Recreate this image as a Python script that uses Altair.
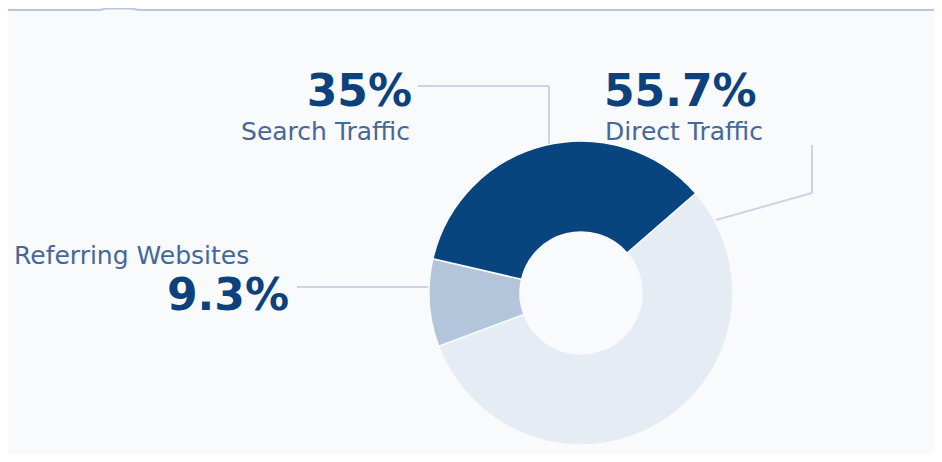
import math
import altair as alt
import pandas as pd

# ---- data ----
categories = ["Direct Traffic", "Referring Websites", "Search Traffic"]
values = [55.7, 9.3, 35.0]
order = [1, 2, 3]
colors = ["#e6ecf4", "#b2c5da", "#08457e"]

df = pd.DataFrame({"category": categories, "value": values, "order": order})

W, H = 926, 446
OFF = 8  # page margin offset (reference px -> chart px)

def px(v):
    return v - OFF

start = math.radians(49)

cx, cy, R, r = 581, 293, 152, 61

donut = alt.Chart(df).mark_arc(
    innerRadius=r, outerRadius=R, stroke="#f8fafc", strokeWidth=1.5
).encode(
    x=alt.value(px(cx)),
    y=alt.value(px(cy)),
    theta=alt.Theta("value:Q", stack=True,
                    scale=alt.Scale(range=[start, start + 2 * math.pi])),
    order=alt.Order("order:Q"),
    color=alt.Color("category:N", legend=None,
                    scale=alt.Scale(domain=categories, range=colors)),
)

one = pd.DataFrame({"a": [0]})

def text_layer(s, x, y, size, bold, color, align):
    return alt.Chart(pd.DataFrame({"t": [s]})).mark_text(
        align=align, baseline="alphabetic", fontSize=size,
        font="DejaVu Sans", fontWeight="bold" if bold else "normal",
        color=color,
    ).encode(x=alt.value(px(x)), y=alt.value(px(y)), text="t:N")

def fmt(v):
    return (f"{v:.1f}".rstrip("0").rstrip(".")) + "%"

PCT = "#0c417c"
LAB = "#46679a"
LINE = "#c9d5e3"

def rule(x1, y1, x2, y2, color=LINE, w=2):
    return alt.Chart(one).mark_rule(color=color, strokeWidth=w).encode(
        x=alt.value(px(x1)), y=alt.value(px(y1)),
        x2=alt.value(px(x2)), y2=alt.value(px(y2)))

layers = [
    # top border with tab notch
    rule(8, 10, 100, 10, "#b9c9dd", 2),
    rule(100, 10, 106, 8.5, "#b9c9dd", 2),
    rule(106, 8.5, 132, 8.5, "#b9c9dd", 2),
    rule(132, 8.5, 138, 10, "#b9c9dd", 2),
    rule(138, 10, 934, 10, "#b9c9dd", 2),
    # leader lines
    rule(418, 86, 549, 86),
    rule(549, 86, 549, 145),
    rule(812, 145, 812, 193),
    rule(812, 193, 716, 220),
    rule(297, 287, 430, 287),
    donut,
    # labels
    text_layer(fmt(values[2]), 412, 106, 44, True, PCT, "right"),
    text_layer(categories[2], 410, 140, 25, False, LAB, "right"),
    text_layer(fmt(values[0]), 604, 106, 44, True, PCT, "left"),
    text_layer(categories[0], 605, 140, 25, False, LAB, "left"),
    text_layer(categories[1], 14, 264, 25, False, LAB, "left"),
    text_layer(fmt(values[1]), 289, 310, 44, True, PCT, "right"),
]

chart = alt.layer(*layers).properties(
    width=W, height=H, autosize=alt.AutoSizeParams(type="none"),
    padding=0, background="#f8fafc",
).configure_view(stroke=None)

chart.save("out.html", embed_options={"renderer": "svg", "actions": False})
